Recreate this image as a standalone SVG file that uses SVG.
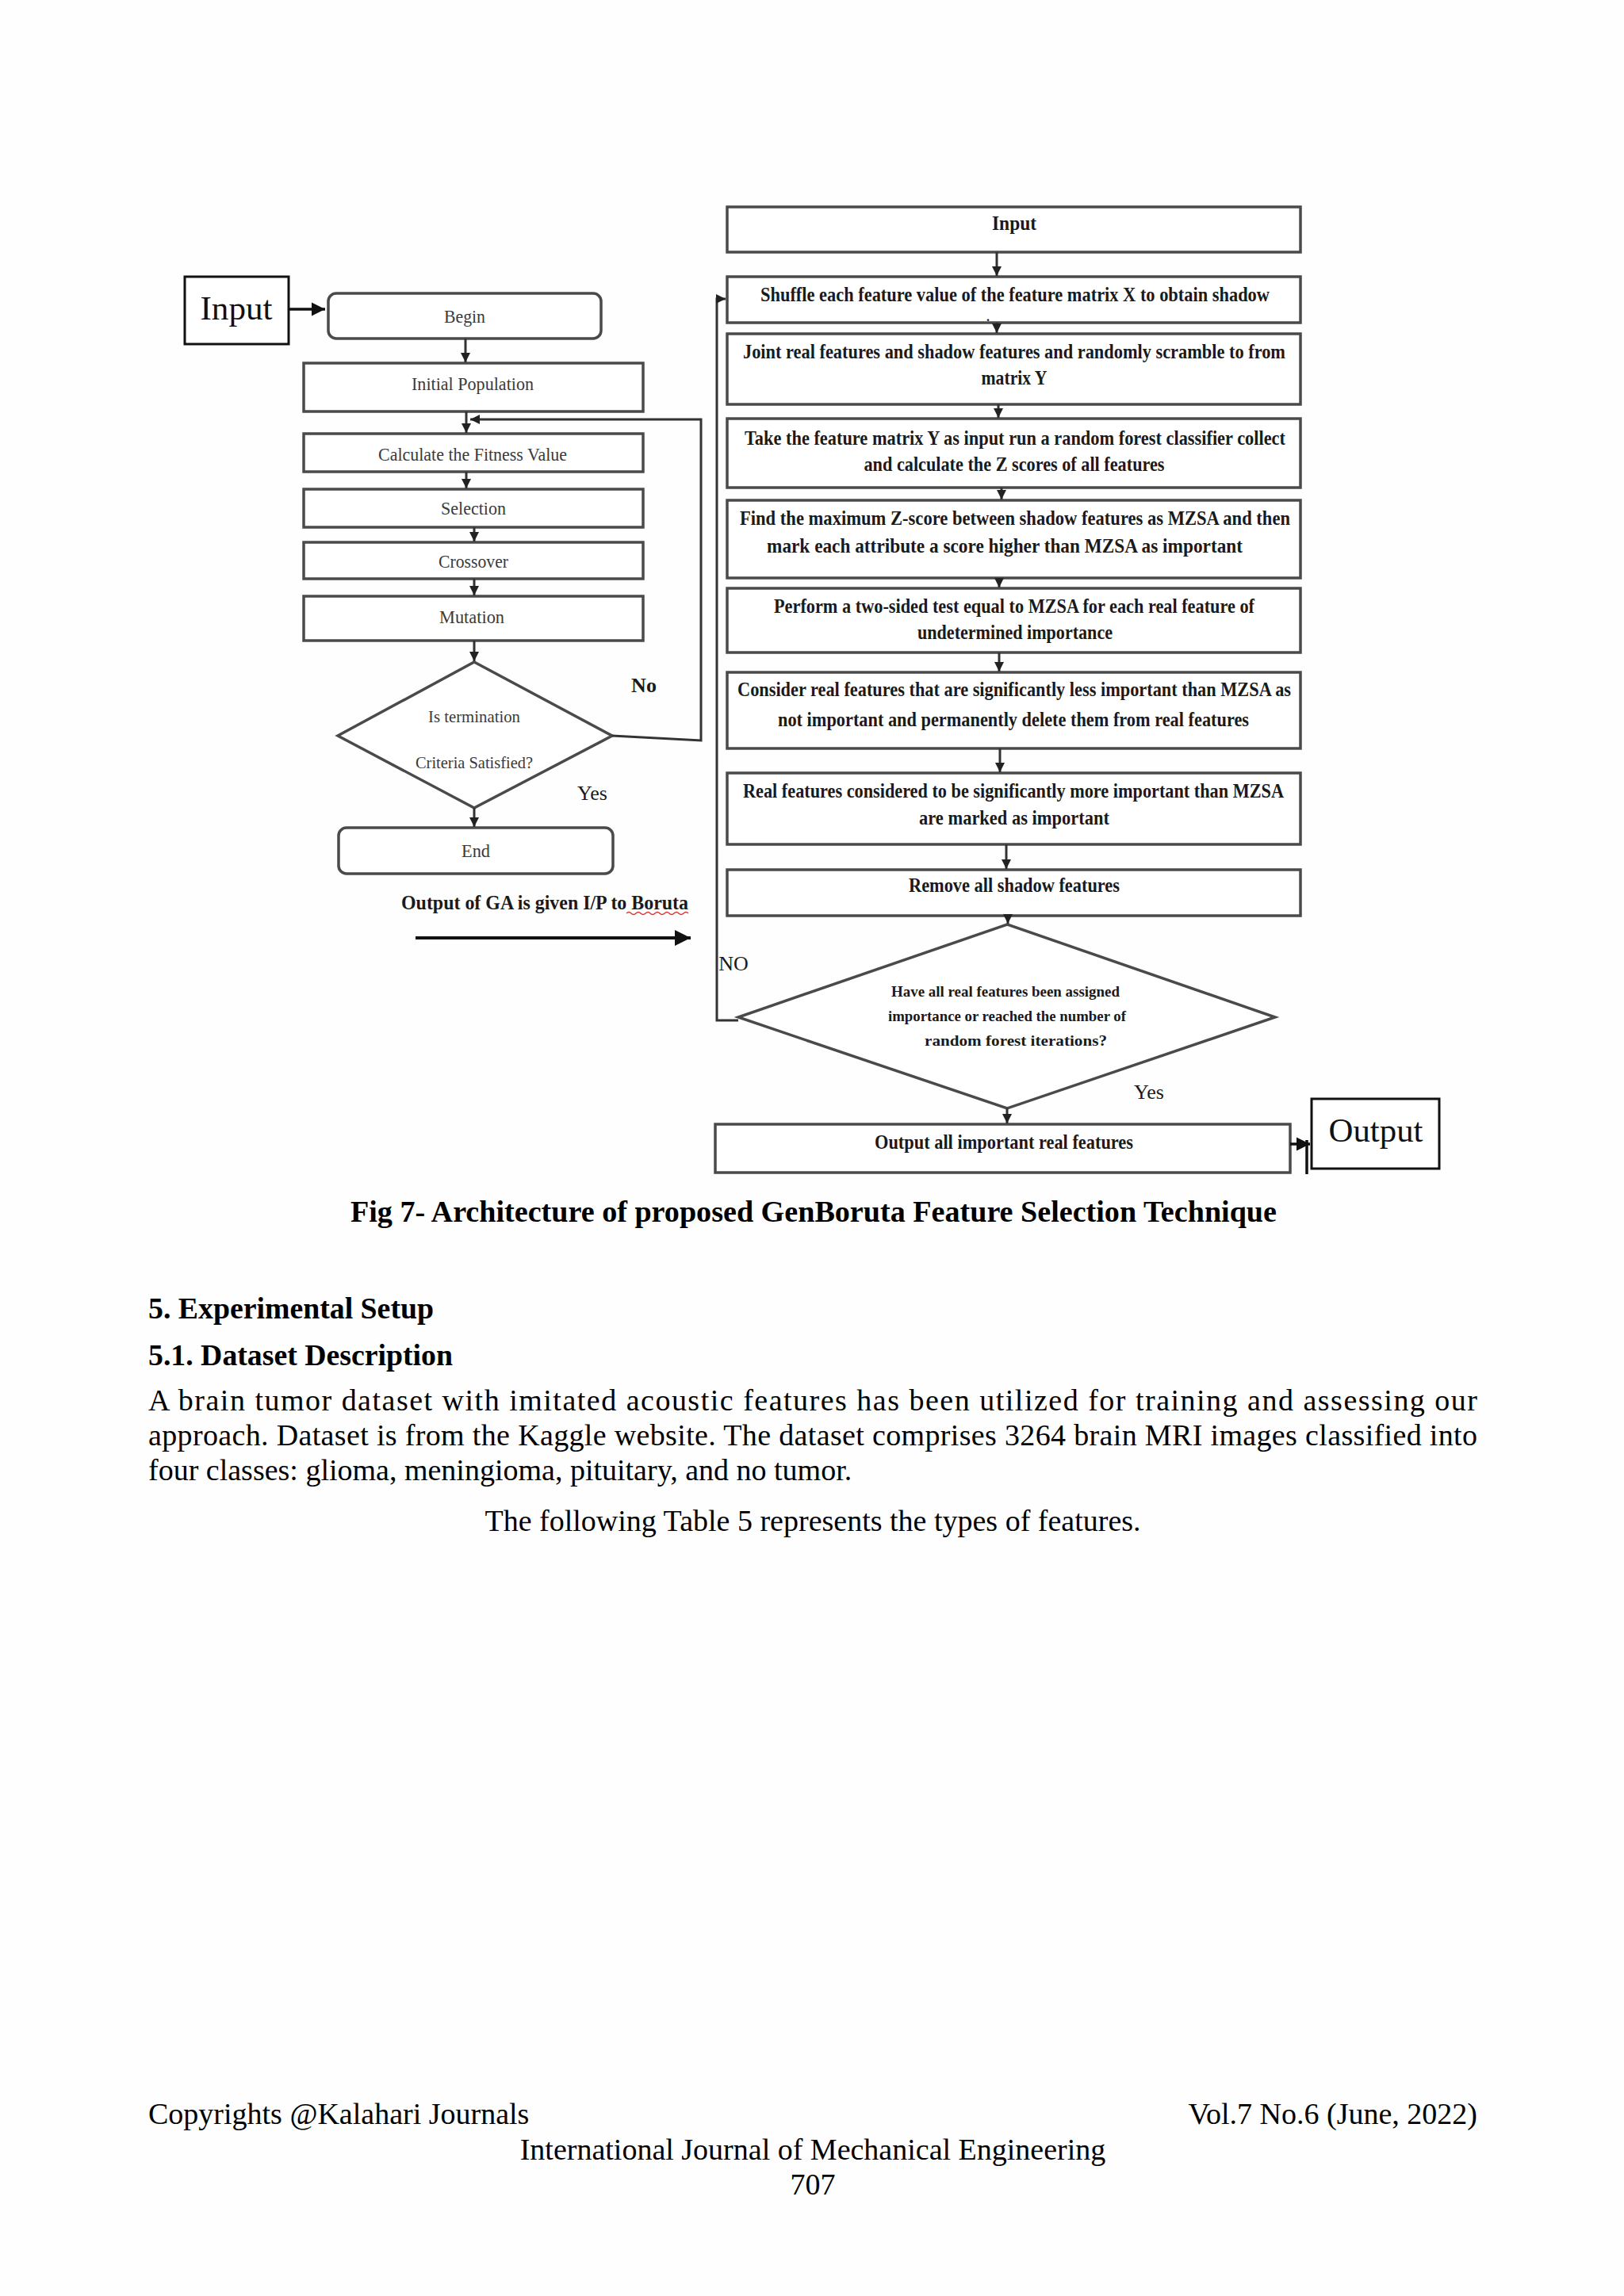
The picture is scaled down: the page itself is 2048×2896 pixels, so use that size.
<svg xmlns="http://www.w3.org/2000/svg" width="2048" height="2896" viewBox="0 0 2048 2896">
<defs>
<style>
.bx{fill:#fff;stroke:#4a4a4a;stroke-width:3.5}
.ln{fill:none;stroke:#333;stroke-width:3}
.lt{font-family:"Liberation Serif",serif;font-size:24px;fill:#3a3a3a;text-anchor:middle}
.rt{font-family:"Liberation Serif",serif;font-size:26px;font-weight:bold;fill:#1a1a1a;text-anchor:middle}
.dt{font-family:"Liberation Serif",serif;font-size:19px;font-weight:bold;fill:#1a1a1a;text-anchor:middle}
.lab{font-family:"Liberation Serif",serif;font-size:26px;fill:#1a1a1a;text-anchor:middle}
.big{font-family:"Liberation Serif",serif;font-size:42px;fill:#111;text-anchor:middle}
.pg{font-family:"Liberation Serif",serif;font-size:38px;fill:#000}
.pb{font-family:"Liberation Serif",serif;font-size:37px;font-weight:bold;fill:#000}
</style>
<marker id="ah" viewBox="0 0 10 10" refX="10" refY="5" markerWidth="4" markerHeight="4" orient="auto" markerUnits="strokeWidth">
<path d="M0,0 L10,5 L0,10 z" fill="#222"/>
</marker>
<marker id="ahb" viewBox="0 0 10 10" refX="10" refY="5" markerWidth="5" markerHeight="5" orient="auto" markerUnits="strokeWidth">
<path d="M0,0 L10,5 L0,10 z" fill="#111"/>
</marker>
</defs>
<rect width="2048" height="2896" fill="#fefefe"/>

<!-- Left (GA) column nodes -->
<g id="ga-input"><rect class="bx" x="233" y="349" width="131" height="85" style="stroke:#111;stroke-width:3"/><text class="big" x="298" y="403" textLength="91" lengthAdjust="spacingAndGlyphs">Input</text></g>
<g id="ga-begin"><rect class="bx" x="414" y="370" width="344" height="57" rx="10"/><text class="lt" x="586" y="407" textLength="52" lengthAdjust="spacingAndGlyphs">Begin</text></g>
<g id="ga-init"><rect class="bx" x="383" y="458" width="428" height="61"/><text class="lt" x="596" y="492" textLength="154" lengthAdjust="spacingAndGlyphs">Initial Population</text></g>
<g id="ga-fitness"><rect class="bx" x="383" y="547" width="428" height="48"/><text class="lt" x="596" y="581" textLength="238" lengthAdjust="spacingAndGlyphs">Calculate the Fitness Value</text></g>
<g id="ga-selection"><rect class="bx" x="383" y="617" width="428" height="48"/><text class="lt" x="597" y="649" textLength="82" lengthAdjust="spacingAndGlyphs">Selection</text></g>
<g id="ga-crossover"><rect class="bx" x="383" y="684" width="428" height="46"/><text class="lt" x="597" y="716" textLength="88" lengthAdjust="spacingAndGlyphs">Crossover</text></g>
<g id="ga-mutation"><rect class="bx" x="383" y="752" width="428" height="56"/><text class="lt" x="595" y="786" textLength="82" lengthAdjust="spacingAndGlyphs">Mutation</text></g>
<g id="ga-decision"><polygon class="bx" points="598,835 772,928 598,1019 426,928"/><text class="lt" x="598" y="911" style="font-size:21px" textLength="116" lengthAdjust="spacingAndGlyphs">Is termination</text><text class="lt" x="598" y="969" style="font-size:21px" textLength="148" lengthAdjust="spacingAndGlyphs">Criteria Satisfied?</text></g>
<g id="ga-end"><rect class="bx" x="427" y="1044" width="346" height="58" rx="10"/><text class="lt" x="600" y="1081" textLength="36" lengthAdjust="spacingAndGlyphs">End</text></g>
<g id="ga-output-label"><text class="lab" x="687" y="1147" style="font-weight:bold" textLength="362" lengthAdjust="spacingAndGlyphs">Output of GA is given I/P to Boruta</text><path d="M790,1152 q3,-3 6,0 t6,0 t6,0 t6,0 t6,0 t6,0 t6,0 t6,0 t6,0 t6,0 t6,0 t6,0 t6,0" fill="none" stroke="#d33" stroke-width="1.5"/></g>

<!-- Right (Boruta) column nodes -->
<g id="b-input"><rect class="bx" x="917" y="261" width="723" height="57"/><text class="rt" x="1279" y="290" textLength="56" lengthAdjust="spacingAndGlyphs">Input</text></g>
<g id="b-shuffle"><rect class="bx" x="917" y="349" width="723" height="58"/><text class="rt" x="1280" y="380" textLength="642" lengthAdjust="spacingAndGlyphs">Shuffle each feature value of the feature matrix X to obtain shadow</text><text class="rt" x="1246" y="405" style="font-size:16px">.</text></g>
<g id="b-joint"><rect class="bx" x="917" y="421" width="723" height="89"/><text class="rt" x="1279" y="452" textLength="684" lengthAdjust="spacingAndGlyphs">Joint real features and shadow features and randomly scramble to from</text><text class="rt" x="1279" y="485" textLength="83" lengthAdjust="spacingAndGlyphs">matrix Y</text></g>
<g id="b-take"><rect class="bx" x="917" y="528" width="723" height="87"/><text class="rt" x="1280" y="561" textLength="682" lengthAdjust="spacingAndGlyphs">Take the feature matrix Y as input run a random forest classifier collect</text><text class="rt" x="1279" y="594" textLength="379" lengthAdjust="spacingAndGlyphs">and calculate the Z scores of all features</text></g>
<g id="b-find"><rect class="bx" x="917" y="631" width="723" height="98"/><text class="rt" x="1280" y="662" textLength="694" lengthAdjust="spacingAndGlyphs">Find the maximum Z-score between shadow features as MZSA and then</text><text class="rt" x="1267" y="697" textLength="600" lengthAdjust="spacingAndGlyphs">mark each attribute a score higher than MZSA as important</text></g>
<g id="b-perform"><rect class="bx" x="917" y="742" width="723" height="81"/><text class="rt" x="1279" y="773" textLength="606" lengthAdjust="spacingAndGlyphs">Perform a two-sided test equal to MZSA for each real feature of</text><text class="rt" x="1280" y="806" textLength="246" lengthAdjust="spacingAndGlyphs">undetermined importance</text></g>
<g id="b-consider"><rect class="bx" x="917" y="848" width="723" height="96"/><text class="rt" x="1279" y="878" textLength="698" lengthAdjust="spacingAndGlyphs">Consider real features that are significantly less important than MZSA as</text><text class="rt" x="1278" y="916" textLength="594" lengthAdjust="spacingAndGlyphs">not important and permanently delete them from real features</text></g>
<g id="b-real"><rect class="bx" x="917" y="975" width="723" height="90"/><text class="rt" x="1278" y="1006" textLength="682" lengthAdjust="spacingAndGlyphs">Real features considered to be significantly more important than MZSA</text><text class="rt" x="1279" y="1040" textLength="240" lengthAdjust="spacingAndGlyphs">are marked as important</text></g>
<g id="b-remove"><rect class="bx" x="917" y="1097" width="723" height="58"/><text class="rt" x="1279" y="1125" textLength="266" lengthAdjust="spacingAndGlyphs">Remove all shadow features</text></g>
<g id="b-decision"><polygon class="bx" points="1270,1166 1608,1283 1270,1398 931,1283"/><text class="dt" x="1268" y="1257" textLength="288" lengthAdjust="spacingAndGlyphs">Have all real features been assigned</text><text class="dt" x="1270" y="1288" textLength="300" lengthAdjust="spacingAndGlyphs">importance or reached the number of</text><text class="dt" x="1281" y="1319" textLength="230" lengthAdjust="spacingAndGlyphs">random forest iterations?</text></g>
<g id="b-output-all"><rect class="bx" x="902" y="1418" width="725" height="61"/><text class="rt" x="1266" y="1449" textLength="326" lengthAdjust="spacingAndGlyphs">Output all important real features</text></g>
<g id="b-output"><rect class="bx" x="1654" y="1386" width="161" height="88" style="stroke:#111;stroke-width:3"/><text class="big" x="1735" y="1440" textLength="119" lengthAdjust="spacingAndGlyphs">Output</text></g>

<!-- Connectors -->
<g id="connectors">
<line class="ln" x1="364" y1="390" x2="410" y2="390" style="stroke:#111;stroke-width:3.5" marker-end="url(#ahb)"/>
<line class="ln" x1="587" y1="427" x2="587" y2="457" marker-end="url(#ah)"/>
<line class="ln" x1="588" y1="519" x2="588" y2="546" marker-end="url(#ah)"/>
<line class="ln" x1="588" y1="595" x2="588" y2="616" marker-end="url(#ah)"/>
<line class="ln" x1="598" y1="665" x2="598" y2="683" marker-end="url(#ah)"/>
<line class="ln" x1="598" y1="730" x2="598" y2="751" marker-end="url(#ah)"/>
<line class="ln" x1="598" y1="808" x2="598" y2="834" marker-end="url(#ah)"/>
<line class="ln" x1="598" y1="1019" x2="598" y2="1043" marker-end="url(#ah)"/>
<polyline class="ln" points="772,928 884,934 884,529 593,529" marker-end="url(#ah)"/>
<line class="ln" x1="524" y1="1183" x2="871" y2="1183" style="stroke:#111;stroke-width:4" marker-end="url(#ahb)"/>
<text class="lab" x="812" y="873" style="font-weight:bold">No</text>
<text class="lab" x="747" y="1009">Yes</text>

<line class="ln" x1="1257" y1="318" x2="1257" y2="348" marker-end="url(#ah)"/>
<line class="ln" x1="1257" y1="407" x2="1257" y2="420" marker-end="url(#ah)"/>
<line class="ln" x1="1259" y1="510" x2="1259" y2="527" marker-end="url(#ah)"/>
<line class="ln" x1="1263" y1="615" x2="1263" y2="630" marker-end="url(#ah)"/>
<line class="ln" x1="1260" y1="729" x2="1260" y2="741" marker-end="url(#ah)"/>
<line class="ln" x1="1260" y1="823" x2="1260" y2="847" marker-end="url(#ah)"/>
<line class="ln" x1="1261" y1="944" x2="1261" y2="974" marker-end="url(#ah)"/>
<line class="ln" x1="1269" y1="1065" x2="1269" y2="1096" marker-end="url(#ah)"/>
<line class="ln" x1="1271" y1="1155" x2="1271" y2="1165" marker-end="url(#ah)"/>
<line class="ln" x1="1270" y1="1398" x2="1270" y2="1417" marker-end="url(#ah)"/>
<polyline class="ln" points="931,1287 904,1287 904,377 915,377" marker-end="url(#ah)"/>
<line class="ln" x1="1627" y1="1443" x2="1652" y2="1443" style="stroke:#111;stroke-width:3.5" marker-end="url(#ahb)"/>
<line class="ln" x1="1648" y1="1438" x2="1648" y2="1481" style="stroke:#111;stroke-width:3.5"/>
<text class="lab" x="925" y="1224">NO</text>
<text class="lab" x="1449" y="1386">Yes</text>
</g>

<!-- Page text -->
<text class="pb" x="442" y="1541" textLength="1168" lengthAdjust="spacingAndGlyphs">Fig 7- Architecture of proposed GenBoruta Feature Selection Technique</text>
<text class="pb" x="187" y="1663" textLength="360" lengthAdjust="spacingAndGlyphs">5. Experimental Setup</text>
<text class="pb" x="187" y="1722" textLength="384" lengthAdjust="spacingAndGlyphs">5.1. Dataset Description</text>
<text class="pg" x="187" y="1779" textLength="1676" lengthAdjust="spacing">A brain tumor dataset with imitated acoustic features has been utilized for training and assessing our</text>
<text class="pg" x="187" y="1823" textLength="1676" lengthAdjust="spacing">approach. Dataset is from the Kaggle website. The dataset comprises 3264 brain MRI images classified into</text>
<text class="pg" x="187" y="1867">four classes: glioma, meningioma, pituitary, and no tumor.</text>
<text class="pg" x="1025" y="1931" text-anchor="middle">The following Table 5 represents the types of features.</text>
<text class="pg" x="187" y="2679">Copyrights @Kalahari Journals</text>
<text class="pg" x="1863" y="2679" text-anchor="end">Vol.7 No.6 (June, 2022)</text>
<text class="pg" x="1025" y="2724" text-anchor="middle">International Journal of Mechanical Engineering</text>
<text class="pg" x="1025" y="2768" text-anchor="middle">707</text>
</svg>
